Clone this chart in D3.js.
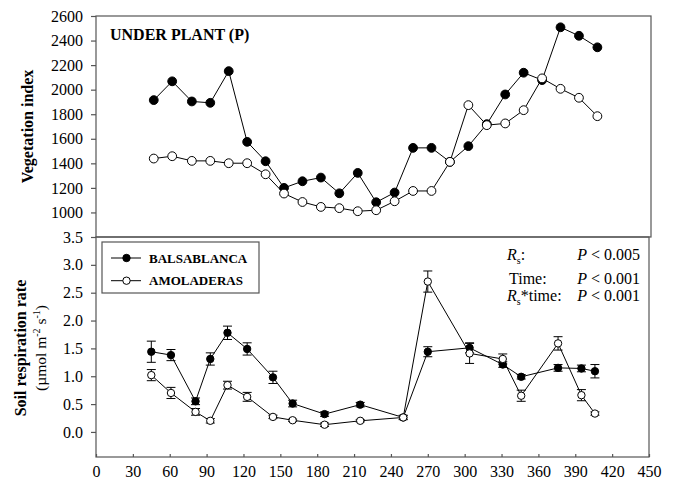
<!DOCTYPE html>
<html>
<head>
<meta charset="utf-8">
<script src="https://cdn.jsdelivr.net/npm/d3@7"></script>
<style>
body { margin: 0; background: #fff; }
svg text { font-family: "Liberation Serif", "Times New Roman", serif !important; fill: #000; }
</style>
</head>
<body>
<svg id="chart"></svg>
<script>
// Vegetation index (top panel)
const vegDays = [47, 62, 78, 93, 108, 123, 138, 153, 168, 183, 198, 213, 228, 243, 258, 273, 288, 303, 318, 333, 348, 363, 378, 393, 408];
const vegBalsa = [1915, 2068, 1904, 1893, 2151, 1575, 1417, 1200, 1254, 1284, 1156, 1322, 1083, 1162, 1526, 1526, 1412, 1540, 1719, 1961, 2138, 2078, 2508, 2439, 2345];
const vegAmol = [1439, 1458, 1420, 1420, 1401, 1401, 1311, 1154, 1085, 1045, 1035, 1010, 1018, 1091, 1175, 1175, 1412, 1874, 1711, 1725, 1833, 2092, 2007, 1934, 1784];

// Soil respiration rate (bottom panel)
const resDays = [45, 61, 81, 93, 107, 123, 144, 160, 186, 215, 250, 270, 304, 331, 346, 376, 395, 406];
const resBalsa = [1.44, 1.38, 0.55, 1.31, 1.78, 1.49, 0.98, 0.51, 0.32, 0.49, 0.26, 1.44, 1.51, 1.21, 0.99, 1.15, 1.14, 1.09];
const resBalsaErr = [0.19, 0.1, 0.06, 0.11, 0.12, 0.11, 0.11, 0.06, 0.04, 0.04, 0.03, 0.09, 0.09, 0.05, 0.04, 0.06, 0.06, 0.12];
const resAmol = [1.02, 0.70, 0.36, 0.20, 0.84, 0.63, 0.27, 0.21, 0.13, 0.20, 0.26, 2.70, 1.41, 1.31, 0.65, 1.59, 0.66, 0.33];
const resAmolErr = [0.1, 0.1, 0.06, 0.04, 0.07, 0.08, 0.03, 0.02, 0.03, 0.02, 0.04, 0.19, 0.18, 0.09, 0.1, 0.12, 0.1, 0.03];

const xTicks = [0, 30, 60, 90, 120, 150, 180, 210, 240, 270, 300, 330, 360, 390, 420, 450];
const vegTicks = [1000, 1200, 1400, 1600, 1800, 2000, 2200, 2400, 2600];
const resTicks = [0, 0.5, 1, 1.5, 2, 2.5, 3, 3.5];

const svg = d3.select("#chart").attr("width", 675).attr("height", 485);

const x = d3.scaleLinear().domain([0, 450]).range([96, 649]);
const yVeg = d3.scaleLinear().domain([800, 2600]).range([237, 16]);
const yRes = d3.scaleLinear().domain([-0.45, 3.5]).range([457, 237]);

const frameColor = "#555";

// frames
svg.append("rect").attr("x", 96).attr("y", 16).attr("width", 555).attr("height", 221)
    .attr("fill", "none").attr("stroke", frameColor).attr("stroke-width", 1.2);
svg.append("rect").attr("x", 96).attr("y", 237).attr("width", 553).attr("height", 220)
    .attr("fill", "none").attr("stroke", frameColor).attr("stroke-width", 1.2);

// axes
function styleAxis(g) {
    g.attr("font-family", null).attr("font-size", null);
    g.select(".domain").remove();
    g.selectAll(".tick line").attr("stroke", frameColor).attr("stroke-width", 1.2);
    g.selectAll(".tick text").style("font-size", "16px");
}

svg.append("g").attr("transform", "translate(96,0)")
    .call(d3.axisLeft(yVeg).tickValues(vegTicks).tickSize(5).tickPadding(8).tickFormat(d3.format("d")))
    .call(styleAxis);

svg.append("g").attr("transform", "translate(96,0)")
    .call(d3.axisLeft(yRes).tickValues(resTicks).tickSize(5).tickPadding(8).tickFormat(d3.format(".1f")))
    .call(styleAxis);

svg.append("g").attr("transform", "translate(0,457)")
    .call(d3.axisBottom(x).tickValues(xTicks).tickSizeInner(-3).tickSizeOuter(0).tickPadding(9).tickFormat(d3.format("d")))
    .call(styleAxis);

// series
function drawSeries(days, vals, yScale, fill, r, errs) {
    const g = svg.append("g");
    const pts = days.map((d, i) => ({ d, v: vals[i], e: errs ? errs[i] : 0 }));
    g.append("path").datum(pts)
        .attr("fill", "none").attr("stroke", "#000").attr("stroke-width", 1)
        .attr("d", d3.line().x(p => x(p.d)).y(p => yScale(p.v)));
    if (errs) {
        const eb = g.selectAll(".err").data(pts).enter().append("g").attr("stroke", "#000").attr("stroke-width", 1);
        eb.append("line").attr("x1", p => x(p.d)).attr("x2", p => x(p.d))
            .attr("y1", p => yScale(p.v - p.e)).attr("y2", p => yScale(p.v + p.e));
        eb.append("line").attr("x1", p => x(p.d) - 4.5).attr("x2", p => x(p.d) + 4.5)
            .attr("y1", p => yScale(p.v + p.e)).attr("y2", p => yScale(p.v + p.e));
        eb.append("line").attr("x1", p => x(p.d) - 4.5).attr("x2", p => x(p.d) + 4.5)
            .attr("y1", p => yScale(p.v - p.e)).attr("y2", p => yScale(p.v - p.e));
    }
    g.selectAll("circle").data(pts).enter().append("circle")
        .attr("cx", p => x(p.d)).attr("cy", p => yScale(p.v)).attr("r", r)
        .attr("fill", fill).attr("stroke", "#000").attr("stroke-width", 1);
}

drawSeries(vegDays, vegBalsa, yVeg, "#000", 4.4);
drawSeries(vegDays, vegAmol, yVeg, "#fff", 4.4);
drawSeries(resDays, resBalsa, yRes, "#000", 3.7, resBalsaErr);
drawSeries(resDays, resAmol, yRes, "#fff", 3.7, resAmolErr);

// panel title
svg.append("text").attr("x", 110).attr("y", 40)
    .style("font-size", "16px").style("font-weight", "bold").text("UNDER PLANT (P)");

// axis titles
svg.append("text").attr("transform", "translate(33,126.5) rotate(-90)")
    .attr("text-anchor", "middle").style("font-size", "16px").style("font-weight", "bold")
    .text("Vegetation index");
svg.append("text").attr("transform", "translate(25.5,348) rotate(-90)")
    .attr("text-anchor", "middle").style("font-size", "16px").style("font-weight", "bold")
    .text("Soil respiration rate");
const unit = svg.append("text").attr("transform", "translate(46,348) rotate(-90)")
    .attr("text-anchor", "middle").style("font-size", "15.5px");
unit.append("tspan").text("(\u00b5mol m");
unit.append("tspan").attr("dy", -6).style("font-size", "10px").text("-2");
unit.append("tspan").attr("dy", 6).text(" s");
unit.append("tspan").attr("dy", -6).style("font-size", "10px").text("-1");
unit.append("tspan").attr("dy", 6).text(")");

// legend
const legendItems = [
    { label: "BALSABLANCA", fill: "#000" },
    { label: "AMOLADERAS", fill: "#fff" }
];
svg.append("rect").attr("x", 102).attr("y", 242).attr("width", 157).attr("height", 51)
    .attr("fill", "#fff").attr("stroke", frameColor).attr("stroke-width", 1.2);
const leg = svg.selectAll(".leg").data(legendItems).enter().append("g")
    .attr("transform", (d, i) => `translate(0,${258 + i * 22.7})`);
leg.append("line").attr("x1", 111).attr("x2", 141).attr("stroke", "#000").attr("stroke-width", 1);
leg.append("circle").attr("cx", 126.5).attr("r", 3.7).attr("fill", d => d.fill)
    .attr("stroke", "#000").attr("stroke-width", 1);
leg.append("text").attr("x", 149).attr("y", 4.6)
    .style("font-size", "13px").style("font-weight", "bold").text(d => d.label);

// statistics
const stats = [
    { name: "Rs", suffix: ":", p: "0.005", y: 260 },
    { name: "Time", suffix: ":", p: "0.001", y: 284 },
    { name: "Rs", suffix: "*time:", p: "0.001", y: 301 }
];
stats.forEach(s => {
    const t = svg.append("text").attr("x", s.name === "Time" ? 509 : 507).attr("y", s.y).style("font-size", "16px");
    if (s.name === "Rs") {
        t.append("tspan").style("font-style", "italic").text("R");
        t.append("tspan").attr("dy", 4).style("font-size", "10px").text("s");
        t.append("tspan").attr("dy", -4).text(s.suffix);
    } else {
        t.text(s.name + s.suffix);
    }
    const p = svg.append("text").attr("x", 640).attr("y", s.y).attr("text-anchor", "end").style("font-size", "16px");
    p.append("tspan").style("font-style", "italic").text("P");
    p.append("tspan").text(" < " + s.p);
});
</script>
</body>
</html>
